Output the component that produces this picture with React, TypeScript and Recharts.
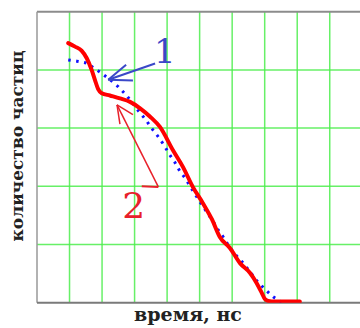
import React from 'react';
import { LineChart, Line, XAxis, YAxis, ReferenceLine, ReferenceDot } from 'recharts';

const xTicks = [1, 2, 3, 4, 5, 6, 7, 8, 9];
const yTicks = [1, 2, 3, 4];

const curve2X = [0.96, 1.17, 1.37, 1.53, 1.68, 1.78, 1.88, 1.99, 2.24, 2.55, 2.86, 3.17, 3.47, 3.78, 4.18, 4.49, 4.79, 5.10, 5.38, 5.62, 5.93, 6.24, 6.55, 6.75, 6.91, 7.01, 7.11, 7.31, 8.08];
const curve2Y = [4.46, 4.40, 4.33, 4.20, 4.00, 3.83, 3.67, 3.60, 3.56, 3.51, 3.45, 3.34, 3.20, 3.02, 2.62, 2.33, 1.99, 1.71, 1.43, 1.13, 0.94, 0.68, 0.51, 0.34, 0.17, 0.06, 0.03, 0.02, 0.02];

const curve1X = [0.96, 1.22, 1.51, 1.73, 1.99, 2.25, 2.50, 2.74, 2.94, 3.14, 3.35, 3.52, 3.73, 3.90, 4.07, 4.24, 4.39, 4.58, 4.73, 4.91, 5.06, 5.24, 5.42, 5.57, 5.75, 5.91, 6.11, 6.34, 6.55, 6.75, 7.01, 7.26, 7.52];
const curve1Y = [4.17, 4.15, 4.12, 4.04, 3.94, 3.83, 3.71, 3.57, 3.43, 3.28, 3.14, 3.00, 2.85, 2.71, 2.55, 2.41, 2.26, 2.12, 1.98, 1.82, 1.69, 1.54, 1.39, 1.25, 1.11, 0.96, 0.82, 0.68, 0.53, 0.38, 0.23, 0.10, 0.01];

const label1 = { text: '1', x: 3.6, y: 4.12 };
const label2 = { text: '2', x: 2.62, y: 1.46 };
const arrow1 = { tip: [2.19, 3.83], tail: [3.63, 4.11], barbA: [2.74, 4.09], barbB: [2.95, 3.82] };
const arrow2 = { tip: [2.46, 3.40], tail: [3.73, 1.99], barbA: [2.55, 3.07], barbB: [2.95, 3.23], footStart: [3.22, 2.0] };

const xLabel = 'время, нс';
const yLabel = 'количество частиц';

const curve1 = curve1X.map((x, i) => ({ x, y: curve1Y[i] }));
const curve2 = curve2X.map((x, i) => ({ x, y: curve2Y[i] }));

const seg = (a: number[], b: number[]) => [{ x: a[0], y: a[1] }, { x: b[0], y: b[1] }];

const BLUE_A = '#3a48c8';
const RED_A = '#e8202a';
const GRID = '#4ced4c';

export default function App() {
  return (
    <div style={{ position: 'absolute', left: 0, top: 0, width: 360, height: 328, overflow: 'hidden', background: '#fff' }}>
      <LineChart width={360} height={328} data={curve2} margin={{ top: 11.7, right: 0, bottom: 25.3, left: 37 }}>
        <XAxis type="number" dataKey="x" domain={[0, 9.93]} hide allowDataOverflow />
        <YAxis type="number" dataKey="y" domain={[0, 5]} hide allowDataOverflow />
        {xTicks.map((t) => (
          <ReferenceLine key={'vx' + t} x={t} stroke={GRID} strokeWidth={1.5} strokeOpacity={0.85} />
        ))}
        {yTicks.map((t) => (
          <ReferenceLine key={'hy' + t} y={t} stroke={GRID} strokeWidth={1.5} strokeOpacity={0.85} />
        ))}
        <ReferenceLine y={5} stroke="#8c8c8c" strokeWidth={2} />
        <ReferenceLine x={0} stroke="#999" strokeWidth={1.5} />
        <ReferenceLine y={0} stroke="#7a7a7a" strokeWidth={2} />
        <Line data={curve1} dataKey="y" type="linear" stroke="#1010ff" strokeWidth={3} strokeDasharray="2.5 5.5" dot={false} isAnimationActive={false} />
        <Line data={curve2} dataKey="y" type="monotone" stroke="#ff0000" strokeWidth={4} strokeLinecap="round" strokeLinejoin="round" dot={false} isAnimationActive={false} />
        <ReferenceLine segment={seg(arrow1.tip, arrow1.tail)} stroke={BLUE_A} strokeWidth={2} />
        <ReferenceLine segment={seg(arrow1.tip, arrow1.barbA)} stroke={BLUE_A} strokeWidth={2} />
        <ReferenceLine segment={seg(arrow1.tip, arrow1.barbB)} stroke={BLUE_A} strokeWidth={2} />
        <ReferenceLine segment={seg(arrow2.tip, arrow2.tail)} stroke={RED_A} strokeWidth={1.5} />
        <ReferenceLine segment={seg(arrow2.tip, arrow2.barbA)} stroke={RED_A} strokeWidth={1.5} />
        <ReferenceLine segment={seg(arrow2.tip, arrow2.barbB)} stroke={RED_A} strokeWidth={1.5} />
        <ReferenceLine segment={seg(arrow2.footStart, arrow2.tail)} stroke={RED_A} strokeWidth={2} />
        <ReferenceDot x={label1.x} y={label1.y} r={0} shape={(p: any) => (
          <text x={p.cx} y={p.cy} fill={BLUE_A} fontFamily="DejaVu Serif" fontSize={34}>{label1.text}</text>
        )} />
        <ReferenceDot x={label2.x} y={label2.y} r={0} shape={(p: any) => (
          <text x={p.cx} y={p.cy} fill={RED_A} fontFamily="DejaVu Serif" fontSize={36}>{label2.text}</text>
        )} />
      </LineChart>
      <svg width={360} height={328} style={{ position: 'absolute', left: 0, top: 0, pointerEvents: 'none' }}>
        <text x={188} y={321} textAnchor="middle" fontFamily="DejaVu Serif" fontWeight="bold" fontSize={19} fill="#222">{xLabel}</text>
        <text transform="translate(23,146) rotate(-90)" textAnchor="middle" fontFamily="DejaVu Serif" fontWeight="bold" fontSize={17} fill="#222">{yLabel}</text>
      </svg>
    </div>
  );
}
